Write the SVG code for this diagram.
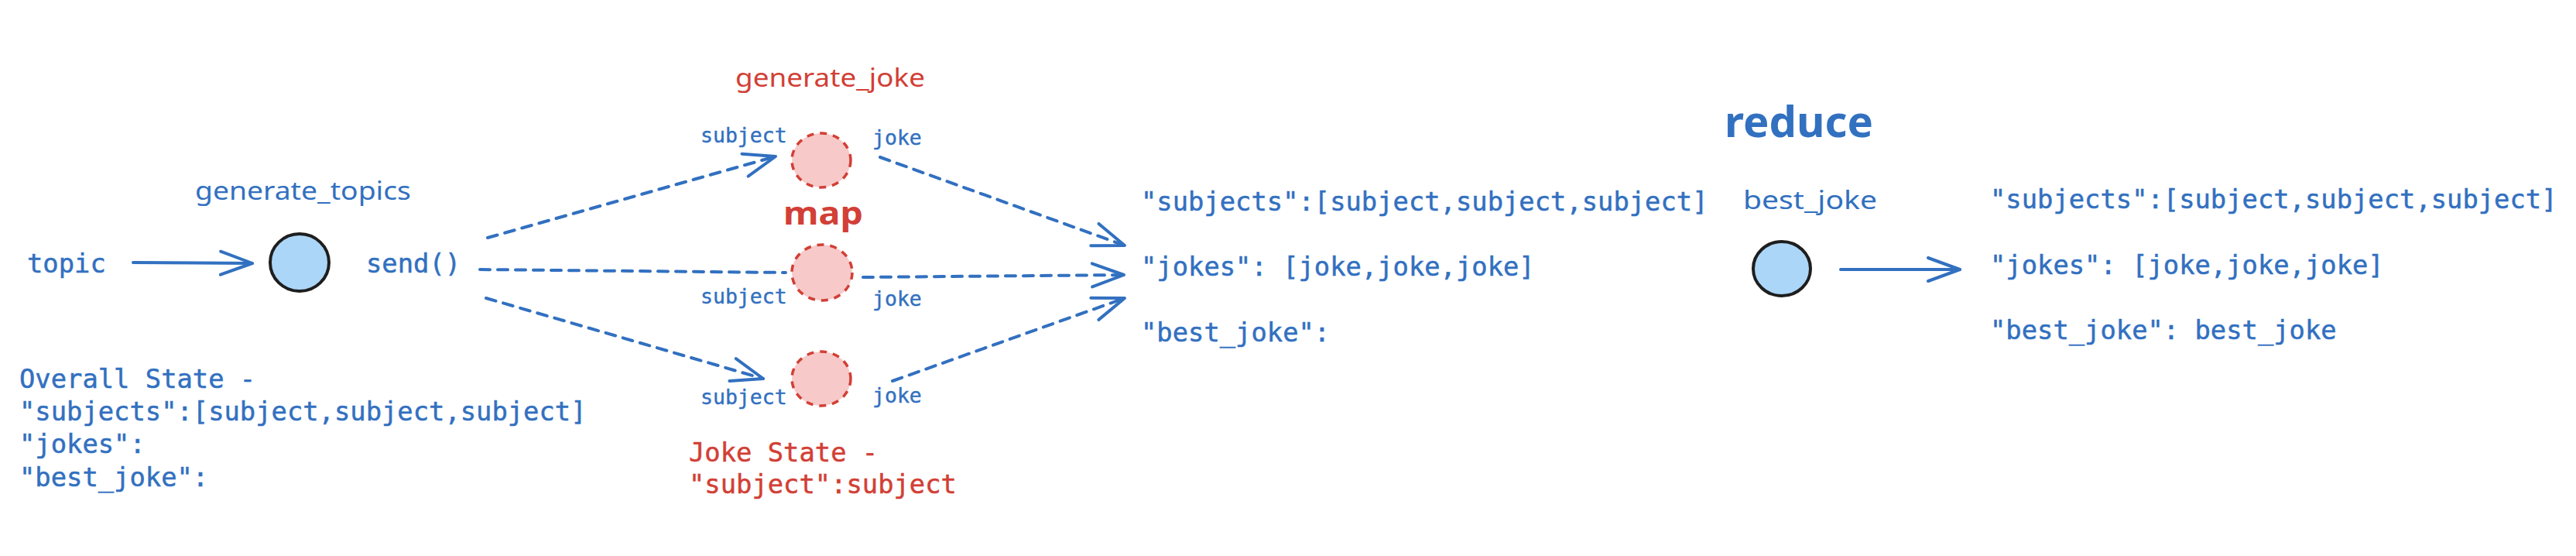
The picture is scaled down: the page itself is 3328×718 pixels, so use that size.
<svg xmlns="http://www.w3.org/2000/svg" width="3328" height="718" viewBox="0 0 3328 718">
<style>
.code{font-family:"DejaVu Sans Mono","Liberation Mono",monospace;font-size:33.8px;fill:#3270c0;stroke:#3270c0;stroke-width:0.5}
.small{font-family:"DejaVu Sans Mono","Liberation Mono",monospace;font-size:26.5px;fill:#3270c0;stroke:#3270c0;stroke-width:0.4}
.hand{font-family:"Noto Sans","Open Sans",sans-serif;font-size:32px;fill:#3270c0}
.handb{font-family:"Noto Sans","Open Sans",sans-serif;font-weight:bold;fill:#3270c0}
.red{fill:#d23f36;stroke:#d23f36}
.hand.red{stroke:none}
.handb.red{stroke:none}
.node{fill:#acd6f8;stroke:#1e1e1e;stroke-width:4}
.map{fill:#f7c9c9;stroke:#d23f36;stroke-width:3.5;stroke-dasharray:9 8}
.dash{fill:none;stroke:#3270c0;stroke-width:4;stroke-dasharray:13 10;stroke-linecap:round}
.solid{fill:none;stroke:#3270c0;stroke-width:4;stroke-linecap:round}
</style>
<defs>
<marker id="arr" markerUnits="userSpaceOnUse" orient="auto" refX="0" refY="0" markerWidth="60" markerHeight="40" viewBox="-50 -20 60 40" overflow="visible">
<path d="M -41 -15 L 0 0 L -41 15" fill="none" stroke="#3270c0" stroke-width="4" stroke-linecap="round" stroke-linejoin="round"/>
</marker>
</defs>
<rect width="3328" height="718" fill="#ffffff"/>

<g id="connectors">
<path class="solid" d="M172 339 L326 340" marker-end="url(#arr)"/>
<path class="dash" d="M630 307 L1002 202" marker-end="url(#arr)"/>
<path class="dash" d="M620 348 L1015 352"/>
<path class="dash" d="M628 385 L986 489" marker-end="url(#arr)"/>
<path class="dash" d="M1137 203 L1453 317" marker-end="url(#arr)"/>
<path class="dash" d="M1115 358 L1452 355" marker-end="url(#arr)"/>
<path class="dash" d="M1153 492 L1453 385" marker-end="url(#arr)"/>
<path class="solid" d="M2378 348 L2532 348" marker-end="url(#arr)"/>
</g>

<g id="input">
<text class="code" x="35" y="352">topic</text>
</g>

<g id="generate_topics">
<text class="hand" x="252" y="258" textLength="279" lengthAdjust="spacingAndGlyphs">generate_topics</text>
<ellipse class="node" cx="387" cy="339" rx="38" ry="37"/>
<text class="code" x="473" y="352">send()</text>
</g>

<g id="overall_state">
<text class="code" x="25" y="501">Overall State -</text>
<text class="code" x="25" y="543">"subjects":[subject,subject,subject]</text>
<text class="code" x="25" y="585">"jokes":</text>
<text class="code" x="25" y="628">"best_joke":</text>
</g>

<g id="generate_joke">
<text class="hand red" x="950" y="112" textLength="245" lengthAdjust="spacingAndGlyphs">generate_joke</text>
<text class="handb red" x="1012" y="290" font-size="42" textLength="103" lengthAdjust="spacingAndGlyphs">map</text>
</g>

<g id="joke1">
<ellipse class="map" cx="1061" cy="207" rx="38" ry="35"/>
<text class="small" x="905" y="184">subject</text>
<text class="small" x="1127" y="187">joke</text>
</g>

<g id="joke2">
<ellipse class="map" cx="1062" cy="352" rx="39" ry="36"/>
<text class="small" x="905" y="392">subject</text>
<text class="small" x="1127" y="395">joke</text>
</g>

<g id="joke3">
<ellipse class="map" cx="1061" cy="489" rx="38" ry="35"/>
<text class="small" x="905" y="522">subject</text>
<text class="small" x="1127" y="520">joke</text>
</g>

<g id="joke_state">
<text class="code red" x="890" y="596">Joke State -</text>
<text class="code red" x="890" y="637">"subject":subject</text>
</g>

<g id="collected_state">
<text class="code" x="1474" y="272">"subjects":[subject,subject,subject]</text>
<text class="code" x="1474" y="356">"jokes": [joke,joke,joke]</text>
<text class="code" x="1474" y="441">"best_joke":</text>
</g>

<g id="reduce">
<text class="handb" x="2228" y="177" font-size="56" textLength="192" lengthAdjust="spacingAndGlyphs">reduce</text>
<text class="hand" x="2252" y="270" textLength="173" lengthAdjust="spacingAndGlyphs">best_joke</text>
<ellipse class="node" cx="2302" cy="347" rx="37" ry="35"/>
</g>

<g id="final_state">
<text class="code" x="2571" y="269">"subjects":[subject,subject,subject]</text>
<text class="code" x="2571" y="354">"jokes": [joke,joke,joke]</text>
<text class="code" x="2571" y="438">"best_joke": best_joke</text>
</g>
</svg>
